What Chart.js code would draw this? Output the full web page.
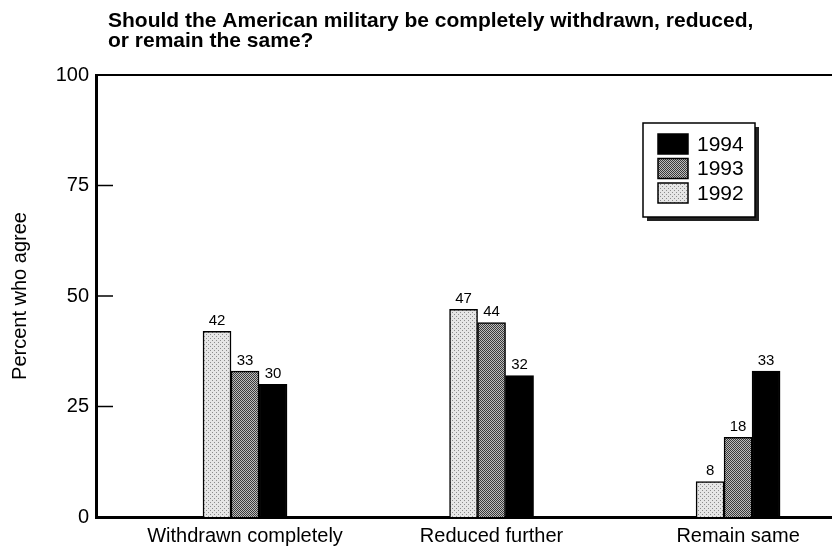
<!DOCTYPE html>
<html>
<head>
<meta charset="utf-8">
<script src="https://cdn.jsdelivr.net/npm/chart.js@4/dist/chart.umd.min.js"></script>
<style>
  html, body { margin: 0; padding: 0; background: #fff; }
  #wrap { width: 832px; height: 552px; position: relative; }
</style>
</head>
<body>
<div id="wrap"><canvas id="c" width="832" height="552"></canvas></div>
<script>
// ---- data ----
const categories = ['Withdrawn completely', 'Reduced further', 'Remain same'];
const seriesNames = ['1992', '1993', '1994'];
const values1992 = [42, 47, 8];
const values1993 = [33, 44, 18];
const values1994 = [30, 32, 33];
const yTicks = [0, 25, 50, 75, 100];
const titleLines = ['Should the American military be completely withdrawn, reduced,', 'or remain the same?'];
const yTitle = 'Percent who agree';

// ---- style constants ----
const FONT = '"Liberation Sans", Arial, Helvetica, sans-serif';

function makePattern(bg, fg, cells, size) {
  const c = document.createElement('canvas');
  c.width = size; c.height = size;
  const g = c.getContext('2d');
  g.fillStyle = bg; g.fillRect(0, 0, size, size);
  g.fillStyle = fg;
  cells.forEach(([x, y]) => g.fillRect(x, y, 1, 1));
  return document.getElementById('c').getContext('2d').createPattern(c, 'repeat');
}
const pat1992 = makePattern('#e6e6e6', '#8c8c8c', [[0,0],[2,2]], 4);
const pat1993 = makePattern('#bdbdbd', '#3a3a3a', [[0,0],[2,0],[1,1],[3,1],[0,2],[2,2],[1,3],[3,3]], 4);
const col1994 = '#000000';

const mk = (vals) => vals.map((v, i) => ({ x: i + 1, y: v }));

const valueLabels = {
  id: 'valueLabels',
  afterDatasetsDraw(chart) {
    const ctx = chart.ctx;
    ctx.save();
    ctx.fillStyle = '#000';
    ctx.font = '15px ' + FONT;
    ctx.textAlign = 'center';
    ctx.textBaseline = 'bottom';
    chart.data.datasets.forEach((ds, di) => {
      const meta = chart.getDatasetMeta(di);
      meta.data.forEach((el, i) => {
        ctx.fillText(String(ds.data[i].y), el.x, el.y - 3);
      });
    });
    ctx.restore();
  }
};

const decorations = {
  id: 'decorations',
  afterDraw(chart) {
    const ctx = chart.ctx;
    const a = chart.chartArea;
    const ys = chart.scales.y;
    ctx.save();
    // top frame line
    ctx.strokeStyle = '#000';
    ctx.lineWidth = 2;
    ctx.beginPath();
    ctx.moveTo(a.left, a.top);
    ctx.lineTo(a.right, a.top);
    ctx.stroke();
    // inward ticks
    ctx.lineWidth = 1.5;
    yTicks.slice(1, -1).forEach(v => {
      const y = ys.getPixelForValue(v);
      ctx.beginPath();
      ctx.moveTo(a.left, y);
      ctx.lineTo(a.left + 17, y);
      ctx.stroke();
    });
    // title
    ctx.fillStyle = '#000';
    ctx.font = 'bold 21px ' + FONT;
    ctx.textAlign = 'left';
    ctx.textBaseline = 'alphabetic';
    titleLines.forEach((t, i) => ctx.fillText(t, 108, 27 + i * 20));
    // legend
    const lx = 643, ly = 123, lw = 112, lh = 94;
    ctx.fillStyle = '#222';
    ctx.fillRect(lx + 4, ly + 4, lw, lh);
    ctx.fillStyle = '#fff';
    ctx.fillRect(lx, ly, lw, lh);
    ctx.strokeStyle = '#000';
    ctx.lineWidth = 1.5;
    ctx.strokeRect(lx, ly, lw, lh);
    const order = [2, 1, 0];
    ctx.font = '21px ' + FONT;
    ctx.textBaseline = 'middle';
    order.forEach((di, k) => {
      const ds = chart.data.datasets[di];
      const sy = ly + 11 + k * 24.5;
      ctx.fillStyle = ds.backgroundColor;
      ctx.fillRect(lx + 15, sy, 30, 20);
      ctx.strokeStyle = '#000';
      ctx.lineWidth = 1.5;
      ctx.strokeRect(lx + 15, sy, 30, 20);
      ctx.fillStyle = '#000';
      ctx.fillText(ds.label, lx + 54, sy + 11);
    });
    ctx.restore();
  }
};

new Chart(document.getElementById('c'), {
  type: 'bar',
  data: {
    datasets: [
      { label: seriesNames[0], data: mk(values1992), backgroundColor: pat1992, borderColor: '#000', borderWidth: 1.5 },
      { label: seriesNames[1], data: mk(values1993), backgroundColor: pat1993, borderColor: '#000', borderWidth: 1.5 },
      { label: seriesNames[2], data: mk(values1994), backgroundColor: col1994, borderColor: '#000', borderWidth: 1.5 }
    ]
  },
  options: {
    responsive: false,
    animation: false,
    events: [],
    barThickness: 28,
    layout: { padding: { top: 75, left: 0, right: 0, bottom: 0 } },
    plugins: { legend: { display: false }, title: { display: false }, tooltip: { enabled: false } },
    scales: {
      x: {
        type: 'linear',
        offset: false,
        min: 0.3955,
        max: 3.381,
        grid: { display: false, drawTicks: false, offset: false },
        border: { display: true, color: '#000', width: 3 },
        afterBuildTicks: (axis) => { axis.ticks = categories.map((c, i) => ({ value: i + 1 })); },
        afterFit: (s) => { s.height = 35; },
        ticks: {
          autoSkip: false,
          maxRotation: 0,
          padding: 7,
          color: '#000',
          font: { family: FONT, size: 20 },
          callback: (v, i) => categories[i]
        }
      },
      y: {
        min: 0,
        max: 100,
        afterBuildTicks: (axis) => { axis.ticks = yTicks.map(v => ({ value: v })); },
        afterFit: (s) => { s.width = 96; },
        grid: { display: false, drawTicks: false },
        border: { display: true, color: '#000', width: 3 },
        ticks: { padding: 7, color: '#000', font: { family: FONT, size: 20 } },
        title: { display: true, text: yTitle, color: '#000', font: { family: FONT, size: 20 }, padding: { top: 8, bottom: 0 } }
      }
    }
  },
  plugins: [valueLabels, decorations]
});
</script>
</body>
</html>
